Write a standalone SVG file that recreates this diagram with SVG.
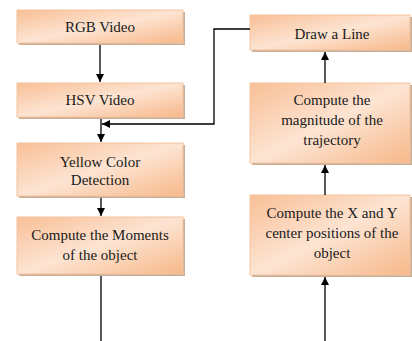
<svg xmlns="http://www.w3.org/2000/svg" width="412" height="341" viewBox="0 0 412 341" font-family="Liberation Serif, Times New Roman, serif" font-size="15">
<defs>
<linearGradient id="g" x1="0" y1="0" x2="1" y2="1">
<stop offset="0" stop-color="#f8bf96"/>
<stop offset="0.5" stop-color="#fde4d2"/>
<stop offset="1" stop-color="#f7b88a"/>
</linearGradient>
<marker id="ah" markerWidth="8" markerHeight="8" refX="8" refY="4" orient="auto" markerUnits="userSpaceOnUse">
<path d="M0,0 L8,4 L0,8 Z" fill="#000"/>
</marker>
<style>
.box{fill:url(#g);stroke:#f4c4a0;stroke-width:1}
.sh{fill:#c9ad96}
text{fill:#1a1a1a;text-anchor:middle}
.c{fill:none;stroke:#000;stroke-width:1.3}
</style>
</defs>
<rect width="412" height="341" fill="#fff"/>
<g id="rgb">
<rect class="sh" x="19" y="12" width="166" height="33"/>
<rect class="box" x="17" y="10" width="166" height="33"/>
<text x="100" y="32">RGB Video</text>
</g>
<g id="hsv">
<rect class="sh" x="19" y="85" width="166" height="34"/>
<rect class="box" x="17" y="83" width="166" height="34"/>
<text x="100" y="105">HSV Video</text>
</g>
<g id="yellow">
<rect class="sh" x="19" y="145" width="166" height="53"/>
<rect class="box" x="17" y="143" width="166" height="53"/>
<text x="100" y="167">Yellow Color</text>
<text x="100" y="185">Detection</text>
</g>
<g id="moments">
<rect class="sh" x="19" y="219" width="166" height="57"/>
<rect class="box" x="17" y="217" width="166" height="57"/>
<text x="100" y="240">Compute the Moments</text>
<text x="100" y="260">of the object</text>
</g>
<g id="drawline">
<rect class="sh" x="252" y="17" width="160" height="35"/>
<rect class="box" x="250" y="15" width="160" height="35"/>
<text x="332" y="39">Draw a Line</text>
</g>
<g id="magnitude">
<rect class="sh" x="252" y="85" width="160" height="80"/>
<rect class="box" x="250" y="83" width="160" height="80"/>
<text x="332" y="105">Compute the</text>
<text x="332" y="125">magnitude of the</text>
<text x="332" y="145">trajectory</text>
</g>
<g id="xy">
<rect class="sh" x="252" y="197" width="160" height="80"/>
<rect class="box" x="250" y="195" width="160" height="80"/>
<text x="332" y="218">Compute the X and Y</text>
<text x="332" y="238">center positions of the</text>
<text x="332" y="258">object</text>
</g>
<g id="connectors">
<line class="c" x1="100" y1="45" x2="100" y2="82" marker-end="url(#ah)"/>
<line class="c" x1="101" y1="119" x2="101" y2="142" marker-end="url(#ah)"/>
<polyline class="c" points="250,29 214,29 214,124 102,124" marker-end="url(#ah)"/>
<line class="c" x1="101" y1="198" x2="101" y2="216" marker-end="url(#ah)"/>
<line class="c" x1="101" y1="276" x2="101" y2="341"/>
<line class="c" x1="325" y1="341" x2="325" y2="277" marker-end="url(#ah)"/>
<line class="c" x1="325" y1="195" x2="325" y2="165" marker-end="url(#ah)"/>
<line class="c" x1="325" y1="83" x2="325" y2="52" marker-end="url(#ah)"/>
</g>
</svg>
